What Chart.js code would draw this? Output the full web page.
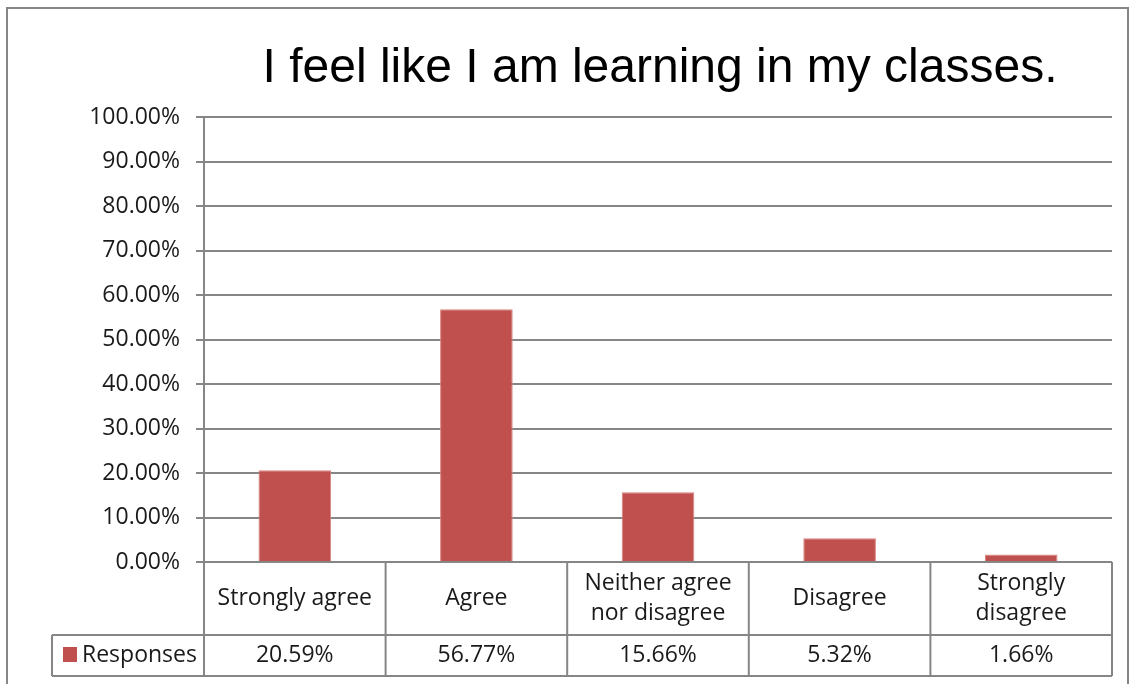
<!DOCTYPE html>
<html>
<head>
<meta charset="utf-8">
<script src="https://cdn.jsdelivr.net/npm/chart.js@4/dist/chart.umd.min.js"></script>
<style>
  html, body { margin: 0; padding: 0; background: #ffffff; }
  #wrap { width: 1129px; height: 684px; position: relative; }
</style>
</head>
<body>
<div id="wrap"><canvas id="c" width="1129" height="684"></canvas></div>
<script>
const chartTitle = "I feel like I am learning in my classes.";
const seriesName = "Responses";
const categories = [["Strongly agree"], ["Agree"], ["Neither agree", "nor disagree"], ["Disagree"], ["Strongly", "disagree"]];
const responses = [0.2059, 0.5677, 0.1566, 0.0532, 0.0166];
const valueLabels = ["20.59%", "56.77%", "15.66%", "5.32%", "1.66%"];

const GRID = "#868686";
const BAR = "#C0504D";
const FONT = "'Open Sans', Lato, sans-serif";
const FSIZE = 23;

const tablePlugin = {
  id: "tableAndTitle",
  beforeDraw(chart) {
    const ctx = chart.ctx;
    ctx.save();
    ctx.fillStyle = "#ffffff";
    ctx.fillRect(0, 0, chart.width, chart.height);
    ctx.strokeStyle = GRID;
    ctx.lineWidth = 2;
    ctx.strokeRect(7, 8, 1121, 700);
    ctx.restore();
  },
  afterDraw(chart) {
    const ctx = chart.ctx;
    const area = chart.chartArea;
    const x = chart.scales.x;
    const n = categories.length;
    const step = (area.right - area.left) / n;
    const rowTop = area.bottom;
    const rowMid = area.bottom + 73;
    const rowBot = area.bottom + 114;
    const legendLeft = 52;
    ctx.save();
    ctx.fillStyle = "#000000";
    ctx.font = "48px 'Liberation Sans', Arial, sans-serif";
    ctx.textAlign = "center";
    ctx.textBaseline = "alphabetic";
    ctx.fillText(chartTitle, (area.left + area.right) / 2 + 2, 82);

    ctx.strokeStyle = GRID;
    ctx.lineWidth = 2;
    ctx.beginPath();
    ctx.moveTo(area.left, rowTop); ctx.lineTo(area.right, rowTop);
    ctx.moveTo(legendLeft, rowMid); ctx.lineTo(area.right, rowMid);
    ctx.moveTo(legendLeft, rowBot); ctx.lineTo(area.right, rowBot);
    ctx.moveTo(legendLeft, rowMid); ctx.lineTo(legendLeft, rowBot);
    for (let i = 0; i <= n; i++) {
      const px = area.left + i * step;
      ctx.moveTo(px, rowTop); ctx.lineTo(px, rowBot);
    }
    ctx.stroke();

    ctx.fillStyle = "#1a1a1a";
    ctx.font = FSIZE + "px " + FONT;
    ctx.textAlign = "center";
    ctx.textBaseline = "middle";
    categories.forEach((lines, i) => {
      const cx = x.getPixelForValue(i);
      const cy = (rowTop + rowMid) / 2;
      const lh = 30;
      lines.forEach((ln, j) => {
        ctx.fillText(ln, cx, cy + (j - (lines.length - 1) / 2) * lh);
      });
      ctx.fillText(valueLabels[i], cx, (rowMid + rowBot) / 2);
    });
    ctx.fillStyle = BAR;
    ctx.fillRect(63, 647, 14, 15);
    ctx.fillStyle = "#1a1a1a";
    ctx.textAlign = "left";
    ctx.fillText(seriesName, 82, (rowMid + rowBot) / 2);
    ctx.restore();
  }
};

new Chart(document.getElementById("c"), {
  type: "bar",
  data: {
    labels: categories.map(c => c.join(" ")),
    datasets: [{
      label: seriesName,
      data: responses,
      backgroundColor: BAR,
      borderColor: "#d9837f",
      borderWidth: 1,
      borderSkipped: "bottom",
      barPercentage: 0.4,
      categoryPercentage: 1.0
    }]
  },
  options: {
    responsive: false,
    animation: false,
    devicePixelRatio: 1,
    layout: { padding: { left: 0, top: 117, right: 17, bottom: 122 } },
    plugins: {
      legend: { display: false },
      title: { display: false },
      tooltip: { enabled: false }
    },
    scales: {
      x: { display: false },
      y: {
        min: 0, max: 1,
        afterFit(scale) { scale.width = 204; },
        ticks: {
          stepSize: 0.1,
          padding: 16,
          color: "#1a1a1a",
          font: { family: FONT, size: FSIZE },
          callback: v => (v * 100).toFixed(2) + "%"
        },
        grid: { color: GRID, lineWidth: 2, tickLength: 8, drawTicks: true },
        border: { color: GRID, width: 2 }
      }
    }
  },
  plugins: [tablePlugin]
});
</script>
</body>
</html>
